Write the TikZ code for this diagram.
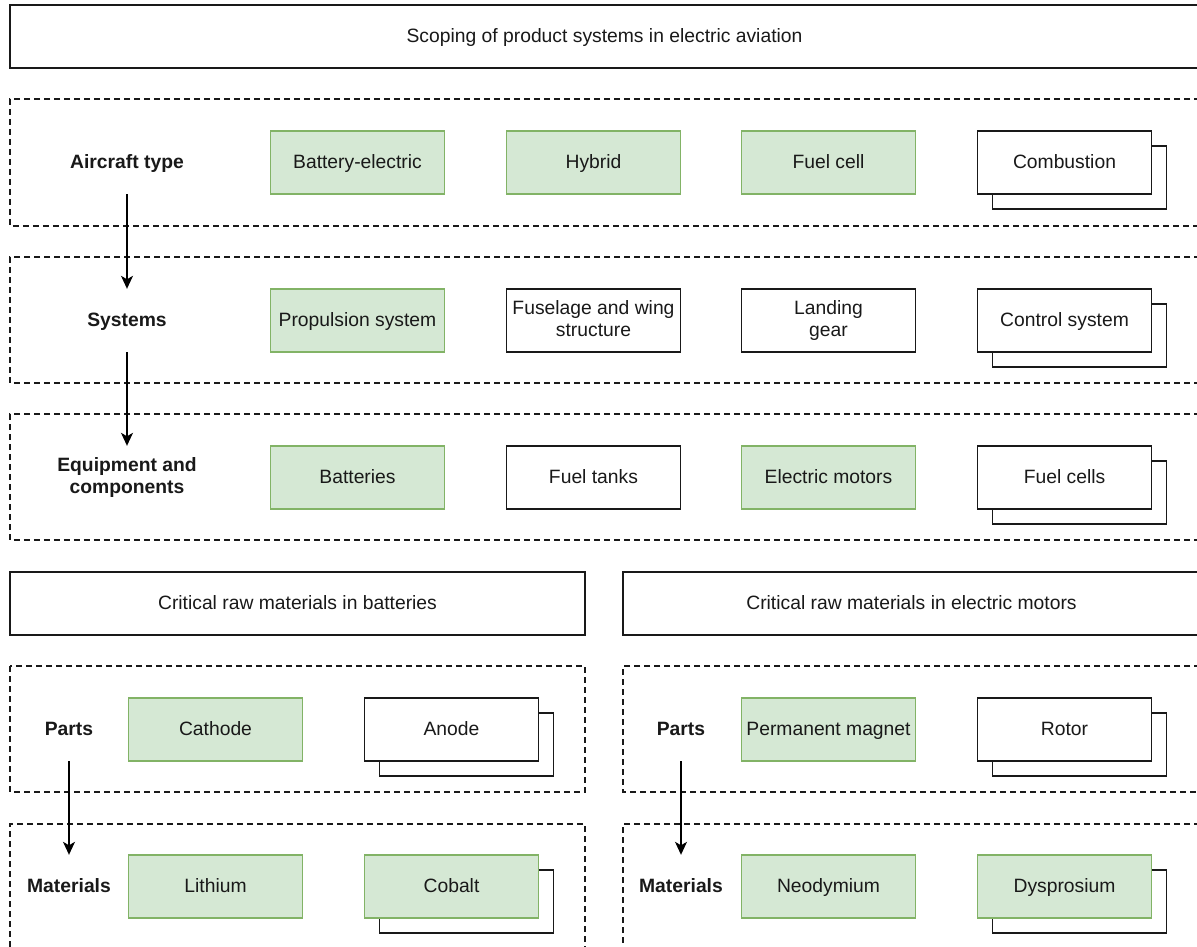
\documentclass[tikz,border=0pt]{standalone}
\usepackage{fontspec}
\setmainfont{Liberation Sans}
\usetikzlibrary{shadows,arrows.meta}
\definecolor{leafFill}{HTML}{D5E8D4}
\definecolor{leafEdge}{HTML}{82B366}
\newcommand{\boxfont}{\fontsize{19.3}{22}\selectfont}
% strut that keeps capitals centred in each box, whatever the descenders
\newcommand{\capstrut}{\rule[-0.24em]{0pt}{1.12em}}
\begin{document}
\begin{tikzpicture}[x=1pt,y=-1pt,
  every node/.style={font=\boxfont, text=black!90,
    execute at begin node=\capstrut, execute at end node=\capstrut},
  panel/.style={draw=black!90, line width=1.4pt, inner sep=0pt, align=center},
  lane/.style={draw=black!90, line width=1.2pt, dash pattern=on 6pt off 4pt},
  item/.style={draw=black!90, fill=white, line width=1.4pt, minimum width=174pt,
    minimum height=63pt, inner sep=0pt, align=center},
  leaf/.style={item, draw=leafEdge, fill=leafFill},
  stacked/.style={general shadow={fill=white, draw=black!90, line width=1.4pt,
    shadow xshift=15pt, shadow yshift=-15pt}},
  level/.style={font=\boxfont\bfseries, minimum width=120pt, minimum height=63pt,
    inner sep=0pt, align=center},
  flow/.style={draw=black, line width=1.3pt,
    -{Stealth[length=13pt, width=12pt, inset=3.5pt]}}]
\useasboundingbox (0,0) rectangle (1197,947);
\fill[white] (0,0) rectangle (1197,947);

% title
\node[panel, minimum width=1189pt, minimum height=63pt] (title) at (604.5,36.5)
  {Scoping of product systems in electric aviation};

% aircraft-level lanes
\draw[lane] (1200,99) -- (10,99) -- (10,226) -- (1200,226);
\draw[lane] (1200,257) -- (10,257) -- (10,383) -- (1200,383);
\draw[lane] (1200,414) -- (10,414) -- (10,540) -- (1200,540);

\node[level] (ac) at (127,162.5) {Aircraft type};
\node[leaf] (be) at (357.5,162.5) {Battery-electric};
\node[leaf] (hy) at (593.5,162.5) {Hybrid};
\node[leaf] (fc) at (828.5,162.5) {Fuel cell};
\node[item, stacked] (co) at (1064.5,162.5) {Combustion};

\node[level] (sy) at (127,320.5) {Systems};
\node[leaf] (ps) at (357.5,320.5) {Propulsion system};
\node[item] (fw) at (593.5,320.5) {Fuselage and wing\\structure};
\node[item] (lg) at (828.5,320.5) {Landing\\gear};
\node[item, stacked] (cs) at (1064.5,320.5) {Control system};

\node[level] (eq) at (127,477.5) {Equipment and\\components};
\node[leaf] (bt) at (357.5,477.5) {Batteries};
\node[item] (ft) at (593.5,477.5) {Fuel tanks};
\node[leaf] (em) at (828.5,477.5) {Electric motors};
\node[item, stacked] (fcs) at (1064.5,477.5) {Fuel cells};

\draw[flow] (ac.south) -- (sy.north);
\draw[flow] (sy.south) -- (eq.north);

% raw-material panels
\node[panel, minimum width=575pt, minimum height=63pt] (crb) at (297.5,603.5)
  {Critical raw materials in batteries};
\node[panel, minimum width=577pt, minimum height=63pt] (crm) at (911.5,603.5)
  {Critical raw materials in electric motors};

\draw[lane] (10,666) rectangle (585,792);
\draw[lane] (585,952) -- (585,824) -- (10,824) -- (10,952);
\draw[lane] (1200,666) -- (623,666) -- (623,792) -- (1200,792);
\draw[lane] (1200,824) -- (623,824) -- (623,952);

% batteries
\node[level, minimum width=90pt] (bp) at (69,729.5) {Parts};
\node[leaf] (ca) at (215.5,729.5) {Cathode};
\node[item, stacked] (an) at (451.5,729.5) {Anode};
\node[level, minimum width=90pt] (bm) at (69,886.5) {Materials};
\node[leaf] (li) at (215.5,886.5) {Lithium};
\node[leaf, stacked] (cb) at (451.5,886.5) {Cobalt};
\draw[flow] (bp.south) -- (bm.north);

% electric motors
\node[level, minimum width=90pt] (mp) at (681,729.5) {Parts};
\node[leaf] (pm) at (828.5,729.5) {Permanent magnet};
\node[item, stacked] (ro) at (1064.5,729.5) {Rotor};
\node[level, minimum width=90pt] (mm) at (681,886.5) {Materials};
\node[leaf] (nd) at (828.5,886.5) {Neodymium};
\node[leaf, stacked] (dy) at (1064.5,886.5) {Dysprosium};
\draw[flow] (mp.south) -- (mm.north);
\end{tikzpicture}
\end{document}
